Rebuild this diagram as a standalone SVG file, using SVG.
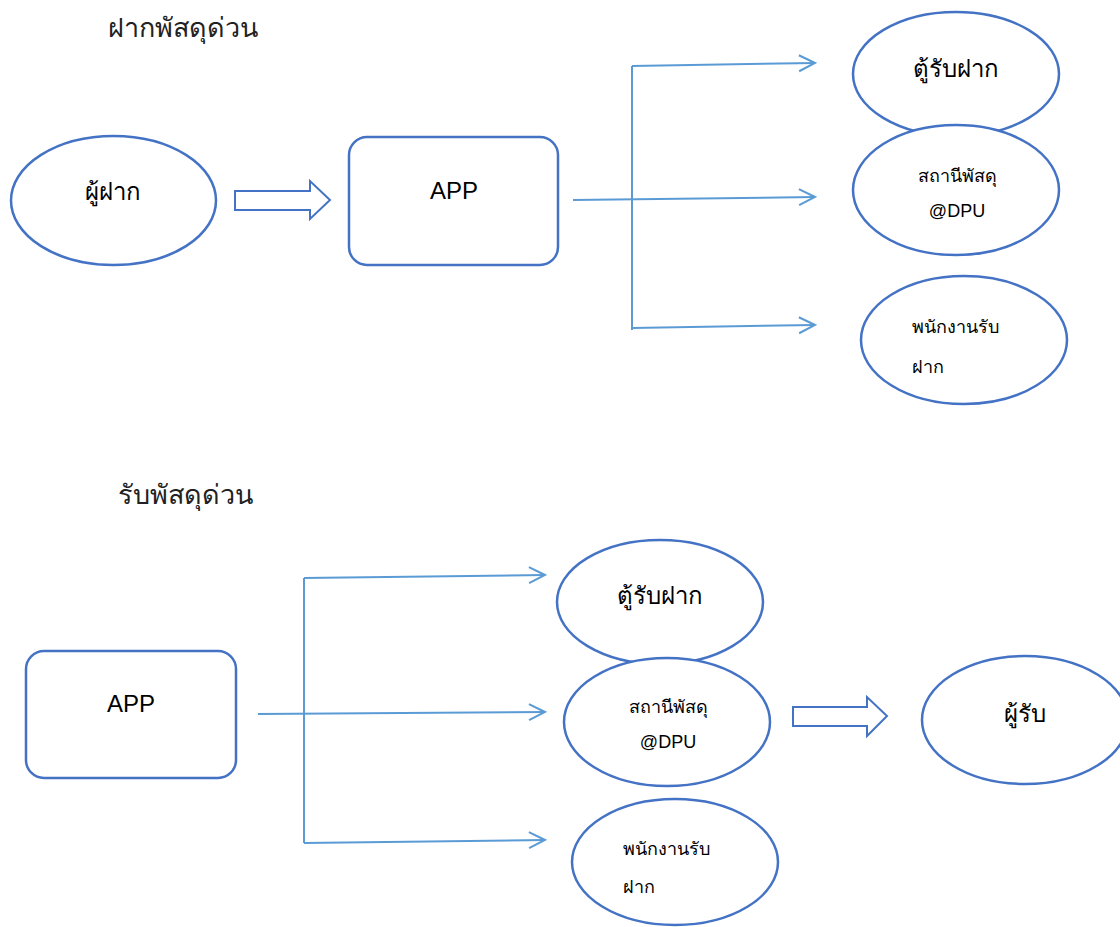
<svg xmlns="http://www.w3.org/2000/svg" width="1120" height="927" viewBox="0 0 1120 927">
<defs>
<style>
.node{fill:#fff;stroke:#4472C4;stroke-width:2.5}
.blk{fill:#fff;stroke:#4472C4;stroke-width:2}
.con{fill:none;stroke:#5B9BD5;stroke-width:2}
.t{font-family:"Liberation Sans","Noto Sans",sans-serif;fill:#000}
.big{font-size:24px}
.sm{font-size:18px}
.title{font-size:27px;fill:#222}
</style>
<marker id="arr" viewBox="0 0 20 20" refX="18" refY="10" markerWidth="20" markerHeight="20" markerUnits="userSpaceOnUse" orient="auto">
<path d="M2,2 L18,10 L2,18" fill="none" stroke="#5B9BD5" stroke-width="2"/>
</marker>
</defs>
<rect width="1120" height="927" fill="#fff"/>
<text class="t title" x="108" y="37">ฝากพัสดุด่วน</text>
<text class="t title" x="118" y="504">รับพัสดุด่วน</text>

<g id="connectors">
<line class="con" x1="573" y1="200" x2="815" y2="197" marker-end="url(#arr)"/>
<line class="con" x1="632" y1="66" x2="632" y2="330"/>
<line class="con" x1="632" y1="66" x2="815" y2="63" marker-end="url(#arr)"/>
<line class="con" x1="632" y1="328" x2="815" y2="325" marker-end="url(#arr)"/>
<line class="con" x1="258" y1="714" x2="545" y2="712" marker-end="url(#arr)"/>
<line class="con" x1="304" y1="578" x2="304" y2="843"/>
<line class="con" x1="304" y1="578" x2="545" y2="575" marker-end="url(#arr)"/>
<line class="con" x1="304" y1="843" x2="545" y2="840" marker-end="url(#arr)"/>
<path id="blockArrow1" class="blk" d="M235,191 L310,191 L310,181 L330,200 L310,219 L310,210 L235,210 Z"/>
<path id="blockArrow2" class="blk" d="M793,707 L867,707 L867,697 L887,716 L867,736 L867,726 L793,726 Z"/>
</g>

<g id="sender">
<ellipse class="node" cx="113.5" cy="200.5" rx="102.5" ry="64.5"/>
<text class="t big" x="113" y="200" text-anchor="middle">ผู้ฝาก</text>
</g>
<g id="app1">
<rect class="node" x="349" y="137" width="209" height="128" rx="18"/>
<text class="t big" x="454" y="199" text-anchor="middle">APP</text>
</g>
<g id="locker1">
<ellipse class="node" cx="956" cy="74" rx="103" ry="62"/>
<text class="t big" x="956" y="77" text-anchor="middle">ตู้รับฝาก</text>
</g>
<g id="station1">
<ellipse class="node" cx="956" cy="190" rx="103" ry="65"/>
<text class="t sm" x="957" y="182" text-anchor="middle">สถานีพัสดุ</text>
<text class="t sm" x="957" y="217" text-anchor="middle">@DPU</text>
</g>
<g id="staff1">
<ellipse class="node" cx="964" cy="340" rx="103" ry="64"/>
<text class="t sm" x="912" y="333">พนักงานรับ</text>
<text class="t sm" x="912" y="373">ฝาก</text>
</g>

<g id="app2">
<rect class="node" x="26" y="651" width="210" height="127" rx="18"/>
<text class="t big" x="131" y="712" text-anchor="middle">APP</text>
</g>
<g id="locker2">
<ellipse class="node" cx="660" cy="602" rx="103" ry="62"/>
<text class="t big" x="660" y="604" text-anchor="middle">ตู้รับฝาก</text>
</g>
<g id="station2">
<ellipse class="node" cx="667" cy="722" rx="103" ry="64"/>
<text class="t sm" x="668" y="713" text-anchor="middle">สถานีพัสดุ</text>
<text class="t sm" x="668" y="748" text-anchor="middle">@DPU</text>
</g>
<g id="staff2">
<ellipse class="node" cx="675" cy="862" rx="103" ry="63"/>
<text class="t sm" x="623" y="855">พนักงานรับ</text>
<text class="t sm" x="623" y="893">ฝาก</text>
</g>
<g id="receiver">
<ellipse class="node" cx="1025" cy="720" rx="103" ry="64"/>
<text class="t big" x="1025" y="722" text-anchor="middle">ผู้รับ</text>
</g>
</svg>
